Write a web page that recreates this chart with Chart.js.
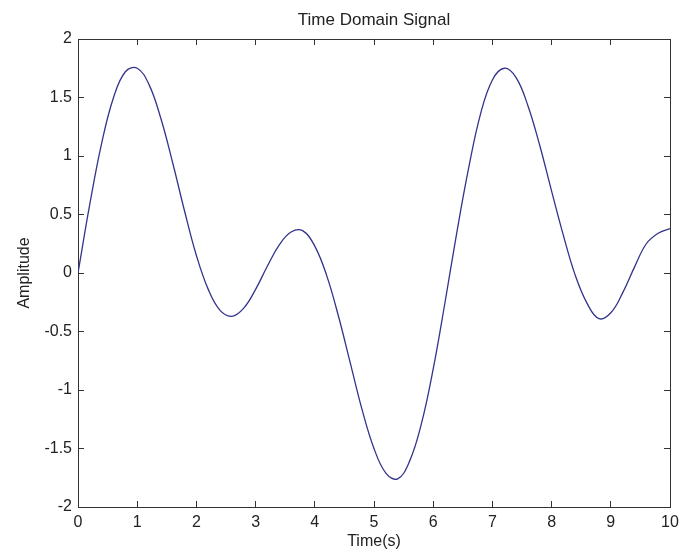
<!DOCTYPE html>
<html>
<head>
<meta charset="utf-8">
<title>Time Domain Signal</title>
<script src="https://cdn.jsdelivr.net/npm/chart.js@4/dist/chart.umd.min.js"></script>
<style>
  body { margin: 0; background: #fff; }
  canvas { display: block; }
</style>
</head>
<body>
<canvas id="signalChart" width="681" height="559"></canvas>
<script>
      // values, every 0.2 s
      const timeValues = [
        0, 0.2, 0.4, 0.6, 0.8, 1.0, 1.2, 1.4, 1.6, 1.8,
        2.0, 2.2, 2.4, 2.6, 2.8, 3.0, 3.2, 3.4, 3.6, 3.8,
        4.0, 4.2, 4.4, 4.6, 4.8, 5.0, 5.2, 5.4, 5.6, 5.8,
        6.0, 6.2, 6.4, 6.6, 6.8, 7.0, 7.2, 7.4, 7.6, 7.8,
        8.0, 8.2, 8.4, 8.6, 8.8, 9.0, 9.2, 9.4, 9.6, 9.8, 10.0
      ];
      const amplitudeValues = [
        0, 0.59, 1.11, 1.50, 1.72, 1.75, 1.61, 1.32, 0.94, 0.53,
        0.15, -0.14, -0.32, -0.37, -0.30, -0.14, 0.06, 0.24, 0.35, 0.36,
        0.23, -0.02, -0.37, -0.77, -1.17, -1.50, -1.71, -1.76, -1.61, -1.29,
        -0.82, -0.25, 0.35, 0.90, 1.36, 1.65, 1.75, 1.67, 1.43, 1.09,
        0.70, 0.32, -0.02, -0.26, -0.39, -0.34, -0.17, 0.05, 0.25, 0.34, 0.38
      ];
      const xTicks = [0, 1, 2, 3, 4, 5, 6, 7, 8, 9, 10];
      const yTicks = [-2, -1.5, -1, -0.5, 0, 0.5, 1, 1.5, 2];

      const chartTitle = 'Time Domain Signal';
      const xLabel = 'Time(s)';
      const yLabel = 'Amplitude';

      const fontFamily = 'Arial, "Liberation Sans", sans-serif';
      const axisColor = '#333333';
      const textColor = '#222222';

      const points = timeValues.map((t, i) => ({ x: t, y: amplitudeValues[i] }));

      // matlab style box: inward tick marks on all four sides
      function boxAxis(position, min, max, showLabels, fixedSize) {
        const horizontal = position === 'top' || position === 'bottom';
        return {
          type: 'linear',
          position: position,
          min: min,
          max: max,
          afterBuildTicks: scale => {
            scale.ticks = (horizontal ? xTicks : yTicks).map(v => ({ value: v }));
          },
          afterFit: scale => {
            if (horizontal) {
              scale.height = fixedSize;
              // no extra room for the half label at each end
              scale.paddingLeft = 0;
              scale.paddingRight = 0;
            } else {
              scale.width = fixedSize;
              scale.paddingTop = 0;
              scale.paddingBottom = 0;
            }
          },
          border: { display: true, color: axisColor, width: 1 },
          grid: {
            drawOnChartArea: false,
            drawTicks: true,
            tickLength: -6,
            tickColor: axisColor,
            tickWidth: 1
          },
          ticks: {
            display: showLabels,
            autoSkip: false,
            maxRotation: 0,
            color: textColor,
            padding: 12,
            font: { family: fontFamily, size: 16 },
            callback: value => String(value)
          }
        };
      }

      const xAxis = boxAxis('bottom', 0, 10, true, 52);
      xAxis.title = {
        display: true,
        text: xLabel,
        color: textColor,
        font: { family: fontFamily, size: 16 },
        padding: { top: 0, bottom: 8 }
      };

      const yAxis = boxAxis('left', -2, 2, true, 78);
      yAxis.title = {
        display: true,
        text: yLabel,
        color: textColor,
        font: { family: fontFamily, size: 16 },
        padding: { top: 15, bottom: 0 }
      };

      const topAxis = boxAxis('top', 0, 10, false, 39);
      topAxis.title = {
        display: true,
        text: chartTitle,
        color: textColor,
        font: { family: fontFamily, size: 17 },
        padding: { top: 10, bottom: 0 }
      };

      const rightAxis = boxAxis('right', -2, 2, false, 11);

      const ctx = document.getElementById('signalChart').getContext('2d');
      const chartInstance = new Chart(ctx, {
        type: 'line',
        data: {
          datasets: [{
            label: 'signal',
            data: points,
            borderColor: '#33338c',
            borderWidth: 1.3,
            pointRadius: 0,
            tension: 0.4,
            fill: false,
            xAxisID: 'x',
            yAxisID: 'y'
          }]
        },
        options: {
          responsive: false,
          animation: false,
          layout: { padding: 0 },
          plugins: {
            legend: { display: false },
            title: { display: false },
            tooltip: { enabled: false }
          },
          scales: {
            x: xAxis,
            y: yAxis,
            x2: topAxis,
            y2: rightAxis
          }
        }
      });
</script>
</body>
</html>
